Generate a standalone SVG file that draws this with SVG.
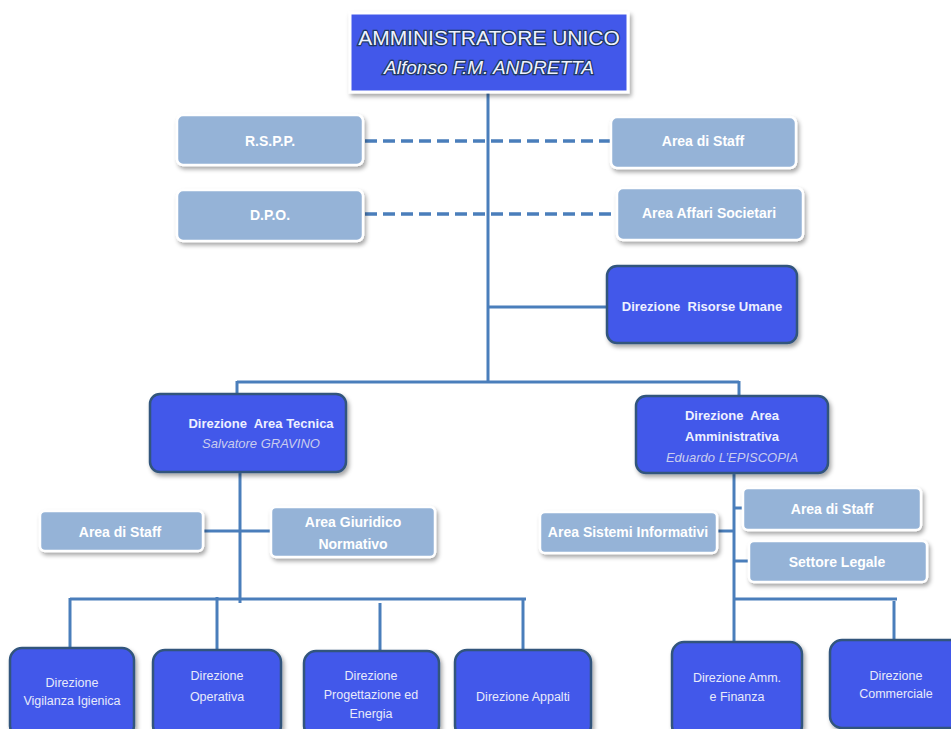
<svg xmlns="http://www.w3.org/2000/svg" width="951" height="729" viewBox="0 0 951 729">
<defs>
<filter id="sh" x="-10%" y="-20%" width="130%" height="150%">
<feDropShadow dx="2" dy="3" stdDeviation="2" flood-color="#000" flood-opacity="0.35"/>
</filter>
<style>
.ln{stroke:#4A7EBB;stroke-width:3;fill:none}
.dash{stroke:#4A7EBB;stroke-width:3.5;fill:none;stroke-dasharray:12 6}
.lt{fill:#95B3D7;stroke:#FFFFFF;stroke-width:2.5;filter:url(#sh)}
.dk{fill:#4358EA;stroke:#30547C;stroke-width:2.5;filter:url(#sh)}
.top{fill:#4358EA;stroke:#FFFFFF;stroke-width:3;filter:url(#sh)}
text{font-family:"Liberation Sans",Arial,sans-serif;text-anchor:middle;fill:#FFFFFF}
.tl{font-size:14px;font-weight:bold}
.td{font-size:13px;font-weight:bold;fill:#EEF0FF;white-space:pre}
.ti{font-size:13px;font-style:italic;fill:#C9CCEE}
.tb{font-size:12.5px;fill:#E8EAFA}
.h1{font-size:21px;stroke:#1F3864;stroke-width:2.5;paint-order:stroke;fill:#EEF2FF}
.h2{font-size:19px;font-style:italic;stroke:#1F3864;stroke-width:2.5;paint-order:stroke;fill:#EEF2FF}
</style>
</defs>
<g id="connectors">
<line class="ln" x1="488" y1="92" x2="488" y2="382"/>
<line class="dash" x1="365" y1="141" x2="611" y2="141"/>
<line class="dash" x1="365" y1="214" x2="617" y2="214"/>
<line class="ln" x1="488" y1="307" x2="607" y2="307"/>
<line class="ln" x1="237" y1="382" x2="739" y2="382"/>
<line class="ln" x1="237" y1="381" x2="237" y2="395"/>
<line class="ln" x1="739" y1="381" x2="739" y2="397"/>
<line class="ln" x1="240" y1="472" x2="240" y2="603"/>
<line class="ln" x1="203" y1="531" x2="271" y2="531"/>
<line class="ln" x1="70" y1="599" x2="526" y2="599"/>
<line class="ln" x1="70" y1="598" x2="70" y2="648"/>
<line class="ln" x1="217" y1="597" x2="217" y2="650"/>
<line class="ln" x1="380" y1="603" x2="380" y2="651"/>
<line class="ln" x1="523" y1="598" x2="523" y2="650"/>
<line class="ln" x1="734" y1="473" x2="734" y2="642"/>
<line class="ln" x1="734" y1="508" x2="743" y2="508"/>
<line class="ln" x1="734" y1="561" x2="749" y2="561"/>
<line class="ln" x1="717" y1="531" x2="734" y2="531"/>
<line class="ln" x1="733" y1="599" x2="897" y2="599"/>
<line class="ln" x1="894" y1="601" x2="894" y2="640"/>
</g>
<g id="amministratore">
<rect class="top" x="350" y="13" width="278" height="79"/>
<text class="h1" x="489" y="45">AMMINISTRATORE UNICO</text>
<text class="h2" x="489" y="74">Alfonso F.M. ANDRETTA</text>
</g>
<g id="rspp">
<rect class="lt" x="177" y="115" width="186" height="50" rx="6"/>
<text class="tl" x="270" y="146">R.S.P.P.</text>
</g>
<g id="staff-top">
<rect class="lt" x="611" y="117" width="185" height="51" rx="6"/>
<text class="tl" x="703" y="146">Area di Staff</text>
</g>
<g id="dpo">
<rect class="lt" x="177" y="190" width="186" height="51" rx="6"/>
<text class="tl" x="270" y="220">D.P.O.</text>
</g>
<g id="affari">
<rect class="lt" x="617" y="188" width="186" height="52" rx="6"/>
<text class="tl" x="709" y="218">Area Affari Societari</text>
</g>
<g id="risorse-umane">
<rect class="dk" x="607" y="266" width="190" height="77" rx="10"/>
<text class="td" x="702" y="311">Direzione  Risorse Umane</text>
</g>
<g id="area-tecnica">
<rect class="dk" x="150" y="394" width="196" height="78" rx="10"/>
<text class="td" x="261" y="428">Direzione  Area Tecnica</text>
<text class="ti" x="261" y="448">Salvatore GRAVINO</text>
</g>
<g id="area-amministrativa">
<rect class="dk" x="636" y="396" width="192" height="77" rx="10"/>
<text class="td" x="732" y="420">Direzione  Area</text>
<text class="td" x="732" y="441">Amministrativa</text>
<text class="ti" x="732" y="462">Eduardo L’EPISCOPIA</text>
</g>
<g id="staff-tecnica">
<rect class="lt" x="40" y="511" width="163" height="40" rx="5"/>
<text class="tl" x="120" y="537">Area di Staff</text>
</g>
<g id="giuridico">
<rect class="lt" x="271" y="507" width="164" height="50" rx="5"/>
<text class="tl" x="353" y="527">Area Giuridico</text>
<text class="tl" x="353" y="549">Normativo</text>
</g>
<g id="staff-amm">
<rect class="lt" x="743" y="488" width="178" height="42" rx="5"/>
<text class="tl" x="832" y="514">Area di Staff</text>
</g>
<g id="legale">
<rect class="lt" x="749" y="541" width="178" height="41" rx="5"/>
<text class="tl" x="837" y="567">Settore Legale</text>
</g>
<g id="sistemi">
<rect class="lt" x="540" y="512" width="177" height="41" rx="5"/>
<text class="tl" x="628" y="537">Area Sistemi Informativi</text>
</g>
<g id="vigilanza">
<rect class="dk" x="10" y="648" width="124" height="90" rx="12"/>
<text class="tb" x="72" y="687">Direzione</text>
<text class="tb" x="72" y="705">Vigilanza Igienica</text>
</g>
<g id="operativa">
<rect class="dk" x="153" y="650" width="128" height="88" rx="12"/>
<text class="tb" x="217" y="680">Direzione</text>
<text class="tb" x="217" y="701">Operativa</text>
</g>
<g id="progettazione">
<rect class="dk" x="304" y="651" width="135" height="87" rx="12"/>
<text class="tb" x="371" y="680">Direzione</text>
<text class="tb" x="371" y="699">Progettazione ed</text>
<text class="tb" x="371" y="718">Energia</text>
</g>
<g id="appalti">
<rect class="dk" x="455" y="650" width="136" height="88" rx="12"/>
<text class="tb" x="523" y="701">Direzione Appalti</text>
</g>
<g id="amm-finanza">
<rect class="dk" x="672" y="642" width="130" height="96" rx="12"/>
<text class="tb" x="737" y="682">Direzione Amm.</text>
<text class="tb" x="737" y="701">e Finanza</text>
</g>
<g id="commerciale">
<rect class="dk" x="830" y="640" width="135" height="88" rx="12"/>
<text class="tb" x="896" y="680">Direzione</text>
<text class="tb" x="896" y="698">Commerciale</text>
</g>
</svg>
